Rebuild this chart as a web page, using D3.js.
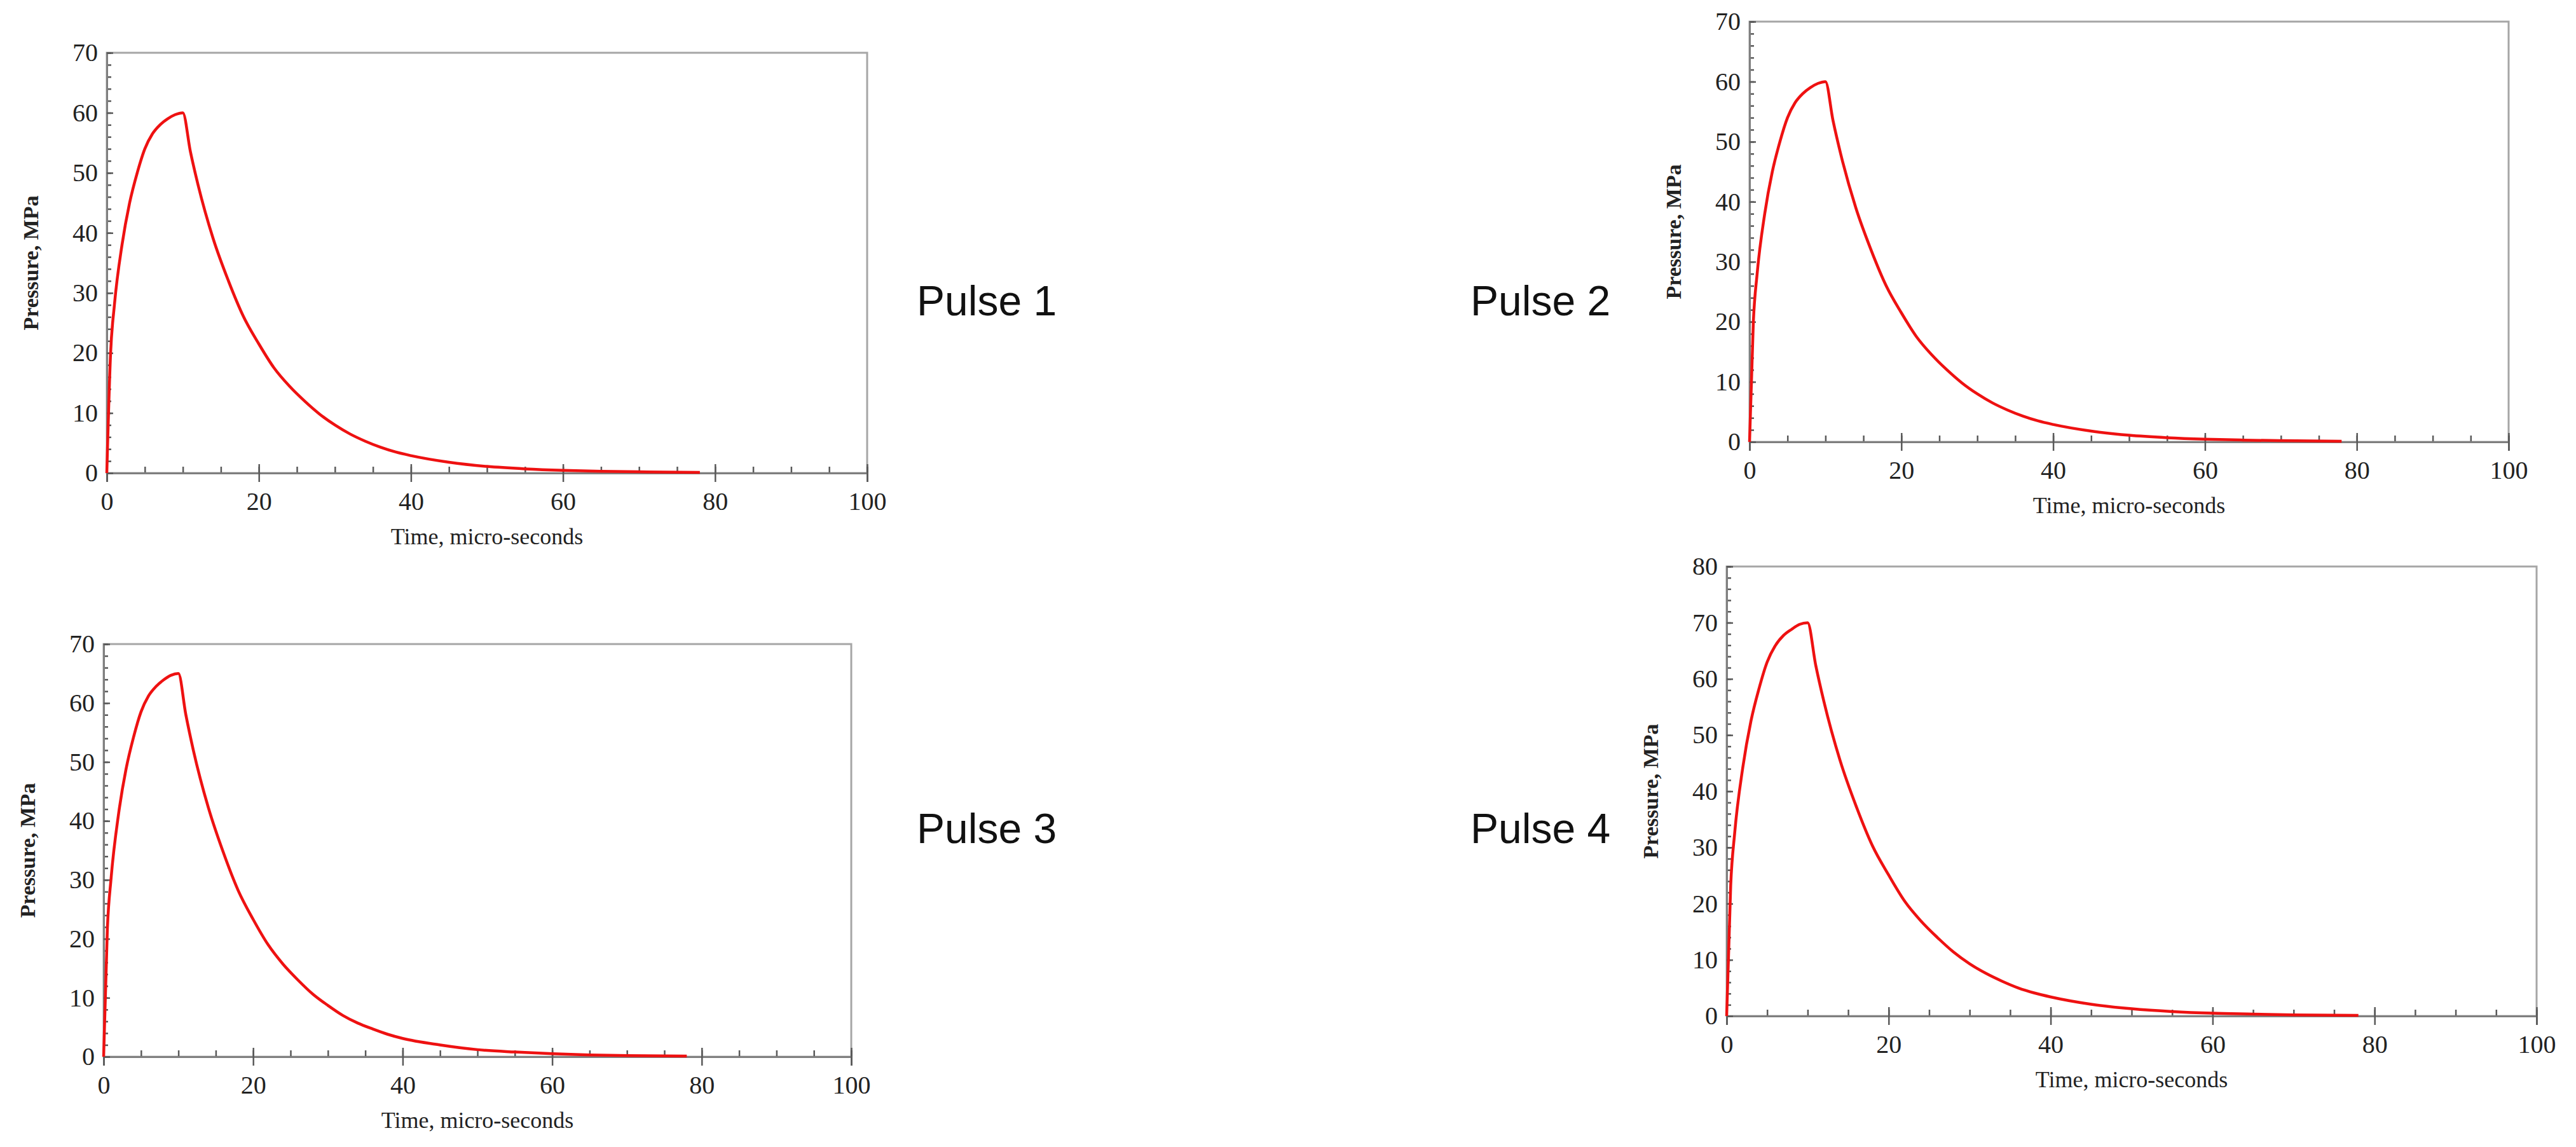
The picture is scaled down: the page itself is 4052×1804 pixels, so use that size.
<!DOCTYPE html>
<html lang="en">
<head>
<meta charset="UTF-8">
<title>Pressure pulses</title>
<script src="https://cdn.jsdelivr.net/npm/d3@7"></script>
<style>body{margin:0;background:#fff}</style>
</head>
<body>
<script>
// data
var time = [0,0.5,1,2,3,4,5,6,7,8,9,10,11,12,14,16,18,20,22,24,26,28,30,32,34,36,38,40,45,50,55,60,65,70,78];
var pulse1 = [0,20,28,38,45,50,54,56.5,58,59,59.7,60,53.5,48,39,32,26,21.5,17.5,14.5,12,9.8,8,6.5,5.3,4.3,3.5,2.9,1.8,1.1,0.7,0.45,0.3,0.2,0.1];
var pulse2 = [0,20,28,38,45,50,54,56.5,58,59,59.7,60,53.5,48,39,32,26,21.5,17.5,14.5,12,9.8,8,6.5,5.3,4.3,3.5,2.9,1.8,1.1,0.7,0.45,0.3,0.2,0.1];
var pulse3 = [0,21.7,30.3,41.2,48.8,54.2,58.5,61.2,62.8,63.9,64.7,65,58,52,42.3,34.7,28.2,23.3,19,15.7,13,10.6,8.7,7,5.7,4.7,3.8,3.1,2,1.2,0.8,0.5,0.3,0.2,0.1];
var pulse4 = [0,23.3,32.7,44.3,52.5,58.3,63,65.9,67.7,68.8,69.7,70,62.4,56,45.5,37.3,30.3,25.1,20.4,16.9,14,11.4,9.3,7.6,6.2,5,4.1,3.4,2.1,1.3,0.8,0.5,0.35,0.2,0.1];
var xTicks = [0,20,40,60,80,100];
var yMax = [70,70,70,80];
var labels = ["Pulse 1","Pulse 2","Pulse 3","Pulse 4"];

var panels = [
  {data: pulse1, ymax: yMax[0], l:168, r:1364, t:83, b:744, lx:1442, ly:496},
  {data: pulse2, ymax: yMax[1], l:2752, r:3946, t:34, b:695, lx:2313, ly:496},
  {data: pulse3, ymax: yMax[2], l:163, r:1339, t:1013, b:1662, lx:1442, ly:1326},
  {data: pulse4, ymax: yMax[3], l:2716, r:3990, t:891, b:1598, lx:2313, ly:1326}
];

var svg = d3.select("body").append("svg").attr("width",4052).attr("height",1804);

panels.forEach(function(p, k){
  var x = d3.scaleLinear().domain([0,100]).range([p.l,p.r]);
  var y = d3.scaleLinear().domain([0,p.ymax]).range([p.b,p.t]);
  var g = svg.append("g");

  g.append("rect").attr("x",p.l).attr("y",p.t).attr("width",p.r-p.l).attr("height",p.b-p.t)
    .attr("fill","none").attr("stroke","#a6a6a6").attr("stroke-width",3);

  // minor ticks
  var gx = g.append("g").attr("transform","translate(0,"+p.b+")")
    .call(d3.axisTop(x).tickValues(d3.range(0,101,5)).tickSize(10).tickFormat(""));
  var gy = g.append("g").attr("transform","translate("+p.l+",0)")
    .call(d3.axisRight(y).tickValues(d3.range(0,p.ymax+1,2)).tickSize(7).tickFormat(""));
  // major ticks + labels
  var gx2 = g.append("g").attr("transform","translate(0,"+p.b+")")
    .call(d3.axisBottom(x).tickValues(xTicks).tickSize(14).tickPadding(16));
  var gy2 = g.append("g").attr("transform","translate("+p.l+",0)")
    .call(d3.axisLeft(y).tickValues(d3.range(0,p.ymax+1,10)).tickSize(0).tickPadding(14));
  gx2.selectAll(".tick line").attr("y1",-14).attr("y2",14);
  gy2.selectAll(".tick line").attr("x2",10);
  [gx,gy,gx2,gy2].forEach(function(a){
    a.select(".domain").attr("stroke","#7f7f7f").attr("stroke-width",3);
    a.selectAll(".tick line").attr("stroke","#595959").attr("stroke-width",2.5);
    a.selectAll("text").attr("font-family","Liberation Serif").attr("font-size",40).attr("fill","#222");
  });

  g.append("text").attr("x",(p.l+p.r)/2).attr("y",p.b+112).attr("text-anchor","middle")
    .attr("font-family","Liberation Serif").attr("font-size",36).attr("fill","#222")
    .text("Time, micro-seconds");
  g.append("text").attr("transform","translate("+(p.l-108)+","+((p.t+p.b)/2)+") rotate(-90)")
    .attr("text-anchor","middle").attr("font-family","Liberation Serif").attr("font-weight","bold")
    .attr("font-size",34).attr("fill","#222").text("Pressure, MPa");

  var line = d3.line().x(function(d,i){return x(time[i]);}).y(function(d){return y(d);}).curve(d3.curveMonotoneX);
  g.append("path").datum(p.data).attr("d",line).attr("fill","none").attr("stroke","#ee1111").attr("stroke-width",4.5);

  svg.append("text").attr("x",p.lx).attr("y",p.ly).attr("font-family","Liberation Sans")
    .attr("font-size",66).attr("fill","#111").text(labels[k]);
});
</script>
</body>
</html>
